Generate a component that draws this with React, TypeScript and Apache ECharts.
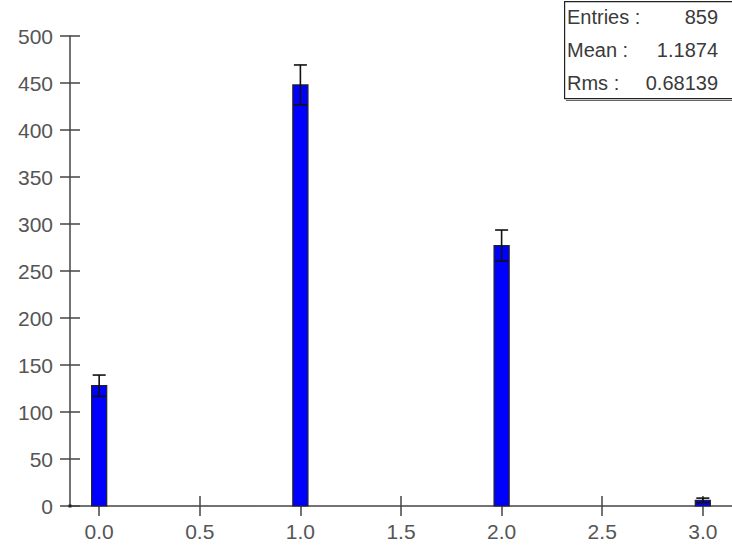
import React, { useEffect, useRef } from "react";
import * as echarts from "echarts";

const binCenters = [0, 1, 2, 3];
const counts = [128, 448, 277, 6];
const errors = [11.3, 21.2, 16.6, 2.4];
const xTickValues = [0, 0.5, 1, 1.5, 2, 2.5, 3];
const statLabels = ["Entries :", "Mean :", "Rms :"];
const statValues = ["859", "1.1874", "0.68139"];

const FONT = "'Liberation Sans', Arial, sans-serif";

export default function App() {
  const ref = useRef<HTMLDivElement>(null);
  useEffect(() => {
    if (!ref.current) return;
    const chart = echarts.init(ref.current, undefined, { renderer: "svg" });
    const data = binCenters.map((x, i) => [x, counts[i], errors[i]]);
    const axisLineStyle = { color: "#444", width: 1.5 };
    const labelStyle = { color: "#555", fontSize: 21, fontFamily: FONT };
    const statGraphics: any[] = [];
    statLabels.forEach((l, i) => {
      statGraphics.push({
        type: "text",
        left: 567,
        top: 7 + i * 33,
        style: { text: l, fill: "#3a3a3a", fontSize: 20, fontFamily: FONT },
        z: 20,
      });
      statGraphics.push({
        type: "text",
        right: 14,
        top: 7 + i * 33,
        style: { text: statValues[i], fill: "#3a3a3a", fontSize: 20, fontFamily: FONT, align: "right" },
        z: 20,
      });
    });
    chart.setOption({
      animation: false,
      backgroundColor: "#fff",
      grid: { left: 70, right: 0, top: 36, bottom: 41, containLabel: false },
      xAxis: [
        {
          type: "value",
          min: -0.145,
          max: 3.145,
          position: "bottom",
          axisLine: { show: true, onZero: false, lineStyle: axisLineStyle },
          axisTick: { show: true, length: 10, inside: false, customValues: xTickValues, lineStyle: axisLineStyle },
          axisLabel: {
            ...labelStyle,
            margin: 15,
            customValues: xTickValues,
            formatter: (v: number) => v.toFixed(1),
          },
          splitLine: { show: false },
        },
        {
          type: "value",
          min: -0.145,
          max: 3.145,
          position: "bottom",
          offset: 0,
          axisLine: { show: false, onZero: false },
          axisTick: { show: true, length: 10, inside: true, customValues: xTickValues, lineStyle: axisLineStyle },
          axisLabel: { show: false },
          splitLine: { show: false },
        },
      ],
      yAxis: [
        {
          type: "value",
          min: 0,
          max: 500,
          interval: 50,
          position: "left",
          axisLine: { show: true, onZero: false, lineStyle: axisLineStyle },
          axisTick: { show: true, length: 10, inside: false, lineStyle: axisLineStyle },
          axisLabel: { ...labelStyle, margin: 17, padding: [4, 0, 0, 0] },
          splitLine: { show: false },
        },
        {
          type: "value",
          min: 0,
          max: 500,
          interval: 50,
          position: "left",
          offset: 0,
          axisLine: { show: false, onZero: false },
          axisTick: { show: true, length: 10, inside: true, lineStyle: axisLineStyle },
          axisLabel: { show: false },
          splitLine: { show: false },
        },
      ],
      series: [
        {
          type: "custom",
          xAxisIndex: 0,
          yAxisIndex: 0,
          clip: false,
          data,
          renderItem: (params: any, api: any) => {
            const x = api.value(0);
            const y = api.value(1);
            const e = api.value(2);
            const pl = api.coord([x - 0.0375, y]);
            const pr = api.coord([x + 0.0375, 0]);
            const pc = api.coord([x, y]);
            const pt = api.coord([x, y + e]);
            const pb = api.coord([x, y - e]);
            const cap = 6.5;
            const errStyle = { stroke: "#111", lineWidth: 1.6 };
            return {
              type: "group",
              children: [
                {
                  type: "rect",
                  shape: { x: pl[0], y: pl[1], width: pr[0] - pl[0], height: pr[1] - pl[1] },
                  style: { fill: "#0000ff", stroke: "#222", lineWidth: 1.2 },
                },
                {
                  type: "line",
                  shape: { x1: pc[0], y1: pt[1], x2: pc[0], y2: pb[1] },
                  style: errStyle,
                },
                {
                  type: "line",
                  shape: { x1: pc[0] - cap, y1: pt[1], x2: pc[0] + cap, y2: pt[1] },
                  style: errStyle,
                },
                {
                  type: "line",
                  shape: { x1: pc[0] - cap, y1: pb[1], x2: pc[0] + cap, y2: pb[1] },
                  style: errStyle,
                },
              ],
            };
          },
          z: 5,
        },
      ],
      graphic: [
        {
          type: "rect",
          left: 564,
          top: 1,
          shape: { width: 200, height: 97 },
          style: { fill: "#fff", stroke: "#222", lineWidth: 1.2 },
          z: 10,
        },
        {
          type: "line",
          shape: { x1: 566, y1: 100.5, x2: 732, y2: 100.5 },
          style: { stroke: "#666", lineWidth: 1 },
          z: 10,
        },
        {
          type: "rect",
          shape: { x: 68.5, y: 504.5, width: 3, height: 3 },
          style: { fill: "#222" },
          z: 15,
        },
        ...statGraphics,
      ],
    });
    return () => chart.dispose();
  }, []);
  return <div ref={ref} style={{ width: 732, height: 547, position: "absolute", left: 0, top: 0 }} />;
}
